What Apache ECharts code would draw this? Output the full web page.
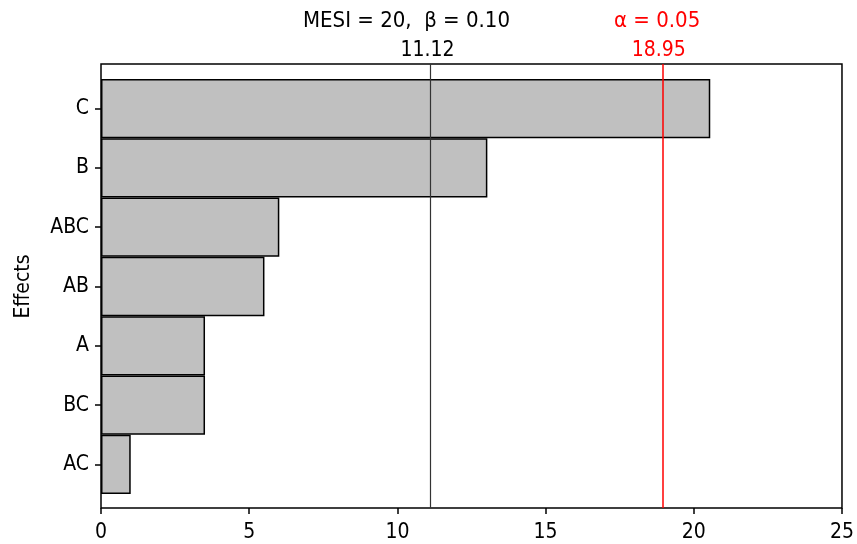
<!DOCTYPE html>
<html><head><meta charset="utf-8">
<script src="https://cdn.jsdelivr.net/npm/echarts@6/dist/echarts.min.js"></script>
<style>html,body{margin:0;padding:0;background:#fff}#c{width:857px;height:544px}</style>
</head><body><div id="c"></div>
<script>
const categories = ['C', 'B', 'ABC', 'AB', 'A', 'BC', 'AC'];
const effects = [20.5, 13.0, 6.0, 5.5, 3.5, 3.5, 1.0];
const xTicks = [0, 5, 10, 15, 20, 25];
const mesiLine = 11.12;
const alphaLine = 18.95;
const mesiTitle = 'MESI = 20,  β = 0.10';
const alphaTitle = 'α = 0.05';

const FONT = 'DejaVu Sans Condensed';
const chart = echarts.init(document.getElementById('c'), null, {renderer: 'canvas'});
const option = {
  animation: false,
  backgroundColor: '#fff',
  grid: [
    {left: 101, top: 64, width: 743, height: 444, show: true, borderColor: '#000', borderWidth: 1.5, backgroundColor: 'transparent'},
    {left: 101, top: 79, width: 743, height: 415}
  ],
  xAxis: [
    {gridIndex: 0, type: 'value', min: xTicks[0], max: xTicks[xTicks.length - 1], interval: 5,
     axisLine: {show: false}, splitLine: {show: false},
     axisTick: {show: true, length: 6, lineStyle: {color: '#000', width: 1.5}},
     axisLabel: {color: '#000', fontFamily: FONT, fontSize: 21, margin: 14}},
    {gridIndex: 1, type: 'value', min: 0, max: 25, show: false}
  ],
  yAxis: [
    {gridIndex: 0, type: 'value', min: 0, max: 1, show: false},
    {gridIndex: 1, type: 'category', data: categories, inverse: true,
     name: 'Effects', nameLocation: 'middle', nameGap: 67, nameRotate: 90,
     nameTextStyle: {color: '#000', fontFamily: FONT, fontSize: 21},
     axisLine: {show: false}, splitLine: {show: false},
     axisTick: {show: true, alignWithLabel: true, length: 6, lineStyle: {color: '#000', width: 1.5}},
     axisLabel: {color: '#000', fontFamily: FONT, fontSize: 21, margin: 12}}
  ],
  series: [
    {type: 'bar', xAxisIndex: 1, yAxisIndex: 1, data: effects, barCategoryGap: 0,
     itemStyle: {color: '#c0c0c0', borderColor: '#000', borderWidth: 1.5}, silent: true},
    {type: 'line', xAxisIndex: 0, yAxisIndex: 0, data: [], silent: true,
     markLine: {symbol: 'none', silent: true, animation: false,
       data: [
         {xAxis: mesiLine, lineStyle: {color: '#333', width: 1.2, type: 'solid'},
          label: {position: 'end', formatter: String(mesiLine), color: '#000', fontFamily: FONT, fontSize: 21, distance: 3, offset: [-3, 0]}},
         {xAxis: alphaLine, lineStyle: {color: '#ff0000', width: 1.5, type: 'solid'},
          label: {position: 'end', formatter: String(alphaLine), color: '#ff0000', fontFamily: FONT, fontSize: 21, distance: 3, offset: [-4, 0]}}
       ]}}
  ],
  graphic: [
    {type: 'text', left: 303, top: 10, style: {text: mesiTitle, fill: '#000', font: '22px "' + FONT + '"'}},
    {type: 'text', left: 614, top: 10, style: {text: alphaTitle, fill: '#ff0000', font: '22px "' + FONT + '"'}}
  ]
};
chart.setOption(option);
</script>
</body></html>
